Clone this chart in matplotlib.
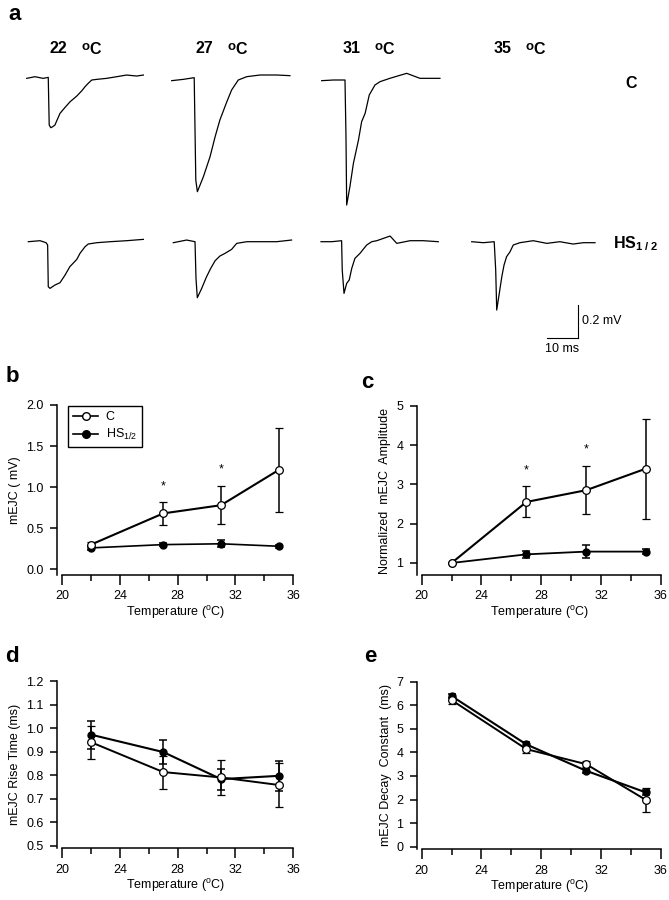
import matplotlib
matplotlib.use('Agg')
import matplotlib.pyplot as plt
from matplotlib.lines import Line2D

plt.rcParams['font.family'] = ['Liberation Sans', 'DejaVu Sans']
plt.rcParams['mathtext.fontset'] = 'custom'
plt.rcParams['mathtext.rm'] = 'Liberation Sans'
plt.rcParams['mathtext.it'] = 'Liberation Sans:italic'
plt.rcParams['mathtext.bf'] = 'Liberation Sans:bold'

W, H = 669, 900

# ---------------- data ----------------
temps = [22, 27, 31, 35]

# b: mEJC amplitude (mV)
amp_C = [0.30, 0.68, 0.78, 1.21]
amp_C_err = [0.03, 0.14, 0.235, 0.51]
amp_HS = [0.26, 0.30, 0.31, 0.28]
amp_HS_err = [0.02, 0.02, 0.045, 0.02]
amp_star_t = [27, 31]
amp_star_y = [1.01, 1.22]

# c: normalized amplitude
norm_C = [1.0, 2.555, 2.855, 3.405]
norm_C_err = [0.0, 0.395, 0.615, 1.275]
norm_HS = [1.0, 1.22, 1.29, 1.29]
norm_HS_err = [0.0, 0.09, 0.16, 0.07]
norm_star_t = [27, 31]
norm_star_y = [3.37, 3.90]

# d: rise time (ms)
rise_C = [0.94, 0.813, 0.79, 0.758]
rise_C_err = [0.07, 0.07, 0.075, 0.093]
rise_HS = [0.972, 0.898, 0.783, 0.797]
rise_HS_err = [0.06, 0.05, 0.045, 0.063]

# e: decay constant (ms)
decay_C = [6.22, 4.14, 3.50, 1.98]
decay_C_err = [0.15, 0.15, 0.12, 0.50]
decay_HS = [6.39, 4.34, 3.22, 2.30]
decay_HS_err = [0.10, 0.10, 0.08, 0.10]

# a: example traces (time in ms from sweep start, current in mV from baseline)
c22_t = [0, 2.6, 5.2, 6.8, 7.1, 7.6, 8.2, 8.9, 10.5, 12.1, 13.7, 15.8, 17.4, 18.4, 19.4, 20.5, 22.1, 25.2, 28.4, 31.5, 34.7, 36.8]
c22_v = [-0.004, 0.006, -0.004, 0.002, -0.284, -0.30, -0.294, -0.284, -0.214, -0.178, -0.144, -0.11, -0.078, -0.054, -0.034, -0.014, -0.01, -0.004, 0.006, 0.016, 0.01, 0.016]
c27_t = [0, 3.7, 7.1, 7.6, 8.1, 10.0, 12.1, 13.7, 15.2, 17.4, 18.9, 21.0, 23.7, 27.9, 33.1, 37.3]
c27_v = [-0.004, 0.004, 0.014, -0.60, -0.67, -0.58, -0.46, -0.34, -0.24, -0.13, -0.06, 0.0, 0.02, 0.03, 0.03, 0.026]
c31_t = [0, 3.7, 7.35, 7.66, 7.88, 8.9, 10.0, 11.6, 12.6, 13.7, 15.0, 16.8, 18.4, 21.5, 26.8, 31.0, 37.3]
c31_v = [-0.004, 0.0, 0.0, -0.34, -0.75, -0.64, -0.50, -0.36, -0.25, -0.20, -0.09, -0.03, -0.01, 0.01, 0.04, 0.01, 0.01]
hs22_t = [0, 3.7, 5.6, 6.1, 6.3, 6.85, 8.4, 10.0, 11.6, 13.1, 15.3, 16.3, 17.9, 18.9, 21.6, 25.8, 31.0, 36.3]
hs22_v = [0, 0.006, -0.006, -0.02, -0.27, -0.28, -0.26, -0.246, -0.20, -0.15, -0.106, -0.07, -0.03, -0.014, -0.006, 0, 0.006, 0.014]
hs27_t = [0, 4.2, 6.85, 7.16, 7.57, 8.96, 10.5, 11.8, 13.2, 14.7, 16.3, 18.4, 20.0, 23.2, 27.4, 32.6, 37.3]
hs27_v = [0, 0.016, 0.006, -0.214, -0.33, -0.274, -0.204, -0.154, -0.108, -0.08, -0.064, -0.04, -0.004, 0.006, 0.006, 0.006, 0.016]
hs31_t = [0, 3.4, 6.5, 6.7, 7.26, 8.1, 8.9, 9.7, 10.7, 12.3, 13.3, 14.4, 16.0, 17.6, 21.8, 23.9, 28.1, 32.3, 37.0]
hs31_v = [0, 0, 0.006, -0.17, -0.31, -0.25, -0.23, -0.16, -0.10, -0.07, -0.046, -0.02, 0, 0.006, 0.034, -0.01, 0.006, 0.006, 0]
hs35_t = [0, 3.7, 7.1, 7.57, 7.89, 8.7, 9.5, 10.2, 11.0, 12.1, 13.1, 15.2, 19.4, 23.7, 27.8, 32.0, 35.2, 38.9]
hs35_v = [0, -0.006, 0, -0.17, -0.41, -0.31, -0.21, -0.14, -0.09, -0.06, -0.02, -0.006, 0.006, -0.01, 0, -0.014, -0.006, -0.006]

trace_temp_labels = ['22', '27', '31', '35']
scale_ms = 10
scale_mv = 0.2

# ---------------- figure ----------------
fig = plt.figure(figsize=(W / 100, H / 100), dpi=100)

PX_MS = 3.17    # pixels per ms in panel a
PX_MV = 166.7   # pixels per mV in panel a

ax_a = fig.add_axes([0, 0, 1, 1])
ax_a.set_xlim(0, W / PX_MS)
ax_a.set_ylim(-H / PX_MV, 0)
ax_a.axis('off')

traces = [
    (c22_t, c22_v, (26.7, 77.7)),
    (c27_t, c27_v, (171.7, 80.0)),
    (c31_t, c31_v, (321.7, 80.0)),
    (hs22_t, hs22_v, (28.3, 241.7)),
    (hs27_t, hs27_v, (173.3, 242.7)),
    (hs31_t, hs31_v, (321.0, 241.7)),
    (hs35_t, hs35_v, (471.7, 241.7)),
]
for t, v, (px, py) in traces:
    x0 = px / PX_MS
    y0 = -py / PX_MV
    ax_a.plot([x0 + ti for ti in t], [y0 + vi for vi in v], color='black', lw=0.9)

# scale bar
cx, cy = 578.3 / PX_MS, -338.3 / PX_MV
ax_a.plot([cx - scale_ms, cx], [cy, cy], color='black', lw=0.8)
ax_a.plot([cx, cx], [cy, cy + scale_mv], color='black', lw=0.8)


def ftext(px, py, s, **kw):
    fig.text(px / W, 1 - py / H, s, **kw)


ftext(581.5, 321.5, '%.1f mV' % scale_mv, fontsize=9, ha='left', va='center')
ftext(562, 349.5, '%d ms' % scale_ms, fontsize=9, ha='center', va='center')

for lab, px in zip(trace_temp_labels, [50, 196, 343, 494]):
    ftext(px, 48.5, lab, fontsize=11.5, fontweight='bold', ha='left', va='center')
    ftext(px + 31.5, 46.5, 'o', fontsize=9.5, fontweight='bold', ha='left', va='center')
    ftext(px + 39.5, 49.5, 'C', fontsize=11.5, fontweight='bold', ha='left', va='center')
ftext(631, 83, 'C', fontsize=11.5, fontweight='bold', ha='center', va='center')
ftext(613, 244, r'HS$_{\mathbf{1\ /\ 2}}$', fontsize=11.5, fontweight='bold',
      ha='left', va='center')

# panel letters
ftext(8, 14, 'a', fontsize=16, fontweight='bold', ha='left', va='center')
ftext(6, 377, 'b', fontsize=16, fontweight='bold', ha='left', va='center')
ftext(361, 382, 'c', fontsize=16, fontweight='bold', ha='left', va='center')
ftext(5, 656, 'd', fontsize=16, fontweight='bold', ha='left', va='center')
ftext(364, 657, 'e', fontsize=16, fontweight='bold', ha='left', va='center')


def px_axes(l, r, t, b):
    return fig.add_axes([l / W, 1 - b / H, (r - l) / W, (b - t) / H])


def style(ax, x_left, ylim, yticks, yfmt, ylabel, label_x_px, left_px, width_px):
    ax.set_xlim(x_left, 36)
    ax.set_ylim(*ylim)
    for s in ['top', 'right']:
        ax.spines[s].set_visible(False)
    ax.spines['bottom'].set_bounds(20, 36)
    for s in ['left', 'bottom']:
        ax.spines[s].set_linewidth(1.1)
    ax.set_xticks([20, 24, 28, 32, 36])
    ax.set_xticks([22, 26, 30, 34], minor=True)
    ax.set_yticks(yticks)
    ax.set_yticklabels([yfmt % y for y in yticks])
    ax.tick_params(axis='x', which='major', length=7, width=1.1, labelsize=9, pad=4)
    ax.tick_params(axis='x', which='minor', length=4, width=1.1)
    ax.tick_params(axis='y', which='major', length=5, width=1.1, labelsize=9, pad=5)
    ax.set_xlabel(r'Temperature ($^{\rm o}$C)', fontsize=9, labelpad=1)
    ax.set_ylabel(ylabel, fontsize=9)
    ax.yaxis.set_label_coords((label_x_px - left_px) / width_px, 0.5)
    ax.patch.set_alpha(0)


def draw(ax, yC, eC, yH, eH, lwC=1.4, lwH=1.4):
    ax.errorbar(temps, yH, yerr=eH, color='black', lw=lwH, marker='o', ms=5,
                mfc='black', mec='black', capsize=3, capthick=1.1, elinewidth=1.1,
                zorder=3)
    ax.errorbar(temps, yC, yerr=eC, color='black', lw=lwC, marker='o', ms=5.5,
                mfc='white', mec='black', mew=0.9, capsize=3, capthick=1.1,
                elinewidth=1.1, zorder=4)


# b
ax_b = px_axes(57.3, 293.3, 405, 575)
style(ax_b, 19.67, (-0.07, 2.0), [0.0, 0.5, 1.0, 1.5, 2.0], '%.1f', 'mEJC ( mV)',
      21, 57.3, 236)
draw(ax_b, amp_C, amp_C_err, amp_HS, amp_HS_err, lwC=1.5, lwH=1.2)
for t, y in zip(amp_star_t, amp_star_y):
    ax_b.text(t, y, '*', fontsize=9, ha='center', va='center')
handles = [Line2D([], [], color='black', lw=1.2, marker='o', ms=5.5, mfc='white', mec='black'),
           Line2D([], [], color='black', lw=1.2, marker='o', ms=5.5, mfc='black', mec='black')]
leg = ax_b.legend(handles, ['C', r'HS$_{1/2}$'], loc='upper left',
                  bbox_to_anchor=((68.3 - 57.3) / 236, (575 - 406.5) / 170),
                  borderaxespad=0, fontsize=9, frameon=True, fancybox=False,
                  edgecolor='black', framealpha=1, handlelength=2.0,
                  handletextpad=0.6, borderpad=0.4, labelspacing=0.3)
leg.get_frame().set_linewidth(1.0)

# c
ax_c = px_axes(417.3, 661, 406, 575)
style(ax_c, 19.71, (0.694, 5.0), [1, 2, 3, 4, 5], '%d', 'Normalized  mEJC  Amplitude',
      391, 417.3, 243.7)
draw(ax_c, norm_C, norm_C_err, norm_HS, norm_HS_err, lwC=1.5, lwH=1.3)
for t, y in zip(norm_star_t, norm_star_y):
    ax_c.text(t, y, '*', fontsize=9, ha='center', va='center')

# d
ax_d = px_axes(57.3, 293.3, 681, 848.3)
style(ax_d, 19.67, (0.489, 1.2), [0.5, 0.6, 0.7, 0.8, 0.9, 1.0, 1.1, 1.2], '%.1f',
      'mEJC Rise Time (ms)', 21, 57.3, 236)
draw(ax_d, rise_C, rise_C_err, rise_HS, rise_HS_err, lwC=1.4, lwH=1.5)

# e
ax_e = px_axes(417.3, 661, 681.7, 849.3)
style(ax_e, 19.71, (-0.11, 7.0), [0, 1, 2, 3, 4, 5, 6, 7], '%d',
      'mEJC Decay  Constant  (ms)', 392, 417.3, 243.7)
draw(ax_e, decay_C, decay_C_err, decay_HS, decay_HS_err, lwC=1.4, lwH=1.5)

fig.savefig('out.png', dpi=100)
